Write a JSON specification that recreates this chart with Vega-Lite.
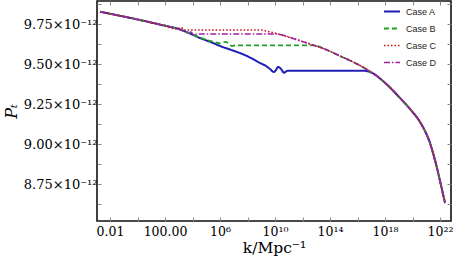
{
  "$schema": "https://vega.github.io/schema/vega-lite/v6.json",
  "width": 354,
  "height": 220,
  "autosize": "none",
  "padding": {"left": 97, "top": 1, "right": 2, "bottom": 44},
  "config": {
    "view": {"stroke": "#111", "strokeWidth": 1.6},
    "font": "DejaVu Serif",
    "legend": {
      "orient": "none", "legendX": 286, "legendY": 1.5, "symbolType": "stroke", "symbolSize": 256,
      "symbolStrokeWidth": 1.8, "labelFont": "Liberation Sans", "labelFontSize": 9, "labelColor": "#222",
      "labelOffset": 5, "rowPadding": 3, "padding": 0
    }
  },
  "data": {"values": [
    {"case": "Case A", "k": 1.875e-3, "P": 9.8269e-12},
    {"case": "Case A", "k": 0.0533, "P": 9.8013e-12},
    {"case": "Case A", "k": 1.52, "P": 9.775e-12},
    {"case": "Case A", "k": 43.3, "P": 9.7463e-12},
    {"case": "Case A", "k": 1233, "P": 9.7156e-12},
    {"case": "Case A", "k": 6577, "P": 9.6906e-12},
    {"case": "Case A", "k": 35080, "P": 9.6625e-12},
    {"case": "Case A", "k": 3.10e5, "P": 9.6313e-12},
    {"case": "Case A", "k": 1e6, "P": 9.6125e-12},
    {"case": "Case A", "k": 5.33e6, "P": 9.5906e-12},
    {"case": "Case A", "k": 9.2e7, "P": 9.55e-12},
    {"case": "Case A", "k": 8.11e8, "P": 9.5063e-12},
    {"case": "Case A", "k": 2.214e9, "P": 9.4875e-12},
    {"case": "Case A", "k": 4.33e9, "P": 9.4688e-12},
    {"case": "Case A", "k": 8.46e9, "P": 9.45e-12},
    {"case": "Case A", "k": 1.182e10, "P": 9.4625e-12},
    {"case": "Case A", "k": 1.652e10, "P": 9.4813e-12},
    {"case": "Case A", "k": 2.73e10, "P": 9.4688e-12},
    {"case": "Case A", "k": 4.52e10, "P": 9.4456e-12},
    {"case": "Case A", "k": 6.31e10, "P": 9.4531e-12},
    {"case": "Case A", "k": 8.82e10, "P": 9.4581e-12},
    {"case": "Case A", "k": 6.58e11, "P": 9.4581e-12},
    {"case": "Case A", "k": 5.34e14, "P": 9.4581e-12},
    {"case": "Case A", "k": 2.12e16, "P": 9.4581e-12},
    {"case": "Case A", "k": 4.15e16, "P": 9.4563e-12},
    {"case": "Case A", "k": 8.11e16, "P": 9.45e-12},
    {"case": "Case A", "k": 1.875e17, "P": 9.4344e-12},
    {"case": "Case A", "k": 4.33e17, "P": 9.4094e-12},
    {"case": "Case A", "k": 2.31e18, "P": 9.3531e-12},
    {"case": "Case A", "k": 1.233e19, "P": 9.2875e-12},
    {"case": "Case A", "k": 6.58e19, "P": 9.2188e-12},
    {"case": "Case A", "k": 3.51e20, "P": 9.1375e-12},
    {"case": "Case A", "k": 8.11e20, "P": 9.0813e-12},
    {"case": "Case A", "k": 1.875e21, "P": 9.0063e-12},
    {"case": "Case A", "k": 3.10e21, "P": 8.9438e-12},
    {"case": "Case A", "k": 6.05e21, "P": 8.85e-12},
    {"case": "Case A", "k": 1e22, "P": 8.7688e-12},
    {"case": "Case A", "k": 1.652e22, "P": 8.6875e-12},
    {"case": "Case A", "k": 2.31e22, "P": 8.6313e-12},

    {"case": "Case B", "k": 1.875e-3, "P": 9.8269e-12},
    {"case": "Case B", "k": 0.0533, "P": 9.8013e-12},
    {"case": "Case B", "k": 1.52, "P": 9.775e-12},
    {"case": "Case B", "k": 43.3, "P": 9.7463e-12},
    {"case": "Case B", "k": 1233, "P": 9.7156e-12},
    {"case": "Case B", "k": 6577, "P": 9.6906e-12},
    {"case": "Case B", "k": 35080, "P": 9.6656e-12},
    {"case": "Case B", "k": 3.10e5, "P": 9.6394e-12},
    {"case": "Case B", "k": 1e6, "P": 9.6294e-12},
    {"case": "Case B", "k": 1.652e6, "P": 9.6344e-12},
    {"case": "Case B", "k": 2.73e6, "P": 9.6388e-12},
    {"case": "Case B", "k": 4.52e6, "P": 9.625e-12},
    {"case": "Case B", "k": 7.47e6, "P": 9.6125e-12},
    {"case": "Case B", "k": 1.458e7, "P": 9.6169e-12},
    {"case": "Case B", "k": 1e9, "P": 9.6169e-12},
    {"case": "Case B", "k": 5.80e12, "P": 9.6169e-12},
    {"case": "Case B", "k": 6.05e13, "P": 9.5875e-12},
    {"case": "Case B", "k": 5.34e14, "P": 9.55e-12},
    {"case": "Case B", "k": 2.85e15, "P": 9.5219e-12},
    {"case": "Case B", "k": 1.52e16, "P": 9.4906e-12},
    {"case": "Case B", "k": 4.15e16, "P": 9.4688e-12},
    {"case": "Case B", "k": 8.11e16, "P": 9.4531e-12},
    {"case": "Case B", "k": 4.33e17, "P": 9.4094e-12},
    {"case": "Case B", "k": 2.31e18, "P": 9.3531e-12},
    {"case": "Case B", "k": 1.233e19, "P": 9.2875e-12},
    {"case": "Case B", "k": 6.58e19, "P": 9.2188e-12},
    {"case": "Case B", "k": 3.51e20, "P": 9.1375e-12},
    {"case": "Case B", "k": 8.11e20, "P": 9.0813e-12},
    {"case": "Case B", "k": 1.875e21, "P": 9.0063e-12},
    {"case": "Case B", "k": 3.10e21, "P": 8.9438e-12},
    {"case": "Case B", "k": 6.05e21, "P": 8.85e-12},
    {"case": "Case B", "k": 1e22, "P": 8.7688e-12},
    {"case": "Case B", "k": 1.652e22, "P": 8.6875e-12},
    {"case": "Case B", "k": 2.31e22, "P": 8.6313e-12},

    {"case": "Case C", "k": 1.875e-3, "P": 9.8269e-12},
    {"case": "Case C", "k": 0.0533, "P": 9.8013e-12},
    {"case": "Case C", "k": 1.52, "P": 9.775e-12},
    {"case": "Case C", "k": 43.3, "P": 9.7463e-12},
    {"case": "Case C", "k": 881, "P": 9.7188e-12},
    {"case": "Case C", "k": 1233, "P": 9.7281e-12},
    {"case": "Case C", "k": 1722, "P": 9.725e-12},
    {"case": "Case C", "k": 2408, "P": 9.7125e-12},
    {"case": "Case C", "k": 1e6, "P": 9.7125e-12},
    {"case": "Case C", "k": 1.134e9, "P": 9.7125e-12},
    {"case": "Case C", "k": 3.097e9, "P": 9.7031e-12},
    {"case": "Case C", "k": 2.31e10, "P": 9.6844e-12},
    {"case": "Case C", "k": 2.04e11, "P": 9.6594e-12},
    {"case": "Case C", "k": 3.51e12, "P": 9.625e-12},
    {"case": "Case C", "k": 6.05e13, "P": 9.5875e-12},
    {"case": "Case C", "k": 5.34e14, "P": 9.55e-12},
    {"case": "Case C", "k": 2.85e15, "P": 9.5219e-12},
    {"case": "Case C", "k": 1.52e16, "P": 9.4906e-12},
    {"case": "Case C", "k": 4.15e16, "P": 9.4688e-12},
    {"case": "Case C", "k": 8.11e16, "P": 9.4531e-12},
    {"case": "Case C", "k": 4.33e17, "P": 9.4094e-12},
    {"case": "Case C", "k": 2.31e18, "P": 9.3531e-12},
    {"case": "Case C", "k": 1.233e19, "P": 9.2875e-12},
    {"case": "Case C", "k": 6.58e19, "P": 9.2188e-12},
    {"case": "Case C", "k": 3.51e20, "P": 9.1375e-12},
    {"case": "Case C", "k": 8.11e20, "P": 9.0813e-12},
    {"case": "Case C", "k": 1.875e21, "P": 9.0063e-12},
    {"case": "Case C", "k": 3.10e21, "P": 8.9438e-12},
    {"case": "Case C", "k": 6.05e21, "P": 8.85e-12},
    {"case": "Case C", "k": 1e22, "P": 8.7688e-12},
    {"case": "Case C", "k": 1.652e22, "P": 8.6875e-12},
    {"case": "Case C", "k": 2.31e22, "P": 8.6313e-12},

    {"case": "Case D", "k": 1.875e-3, "P": 9.8269e-12},
    {"case": "Case D", "k": 0.0533, "P": 9.8013e-12},
    {"case": "Case D", "k": 1.52, "P": 9.775e-12},
    {"case": "Case D", "k": 43.3, "P": 9.7463e-12},
    {"case": "Case D", "k": 1233, "P": 9.7156e-12},
    {"case": "Case D", "k": 4710, "P": 9.6956e-12},
    {"case": "Case D", "k": 7780, "P": 9.70e-12},
    {"case": "Case D", "k": 12850, "P": 9.6781e-12},
    {"case": "Case D", "k": 21230, "P": 9.6875e-12},
    {"case": "Case D", "k": 1e8, "P": 9.6875e-12},
    {"case": "Case D", "k": 1.182e10, "P": 9.6875e-12},
    {"case": "Case D", "k": 2.31e10, "P": 9.6844e-12},
    {"case": "Case D", "k": 2.04e11, "P": 9.6594e-12},
    {"case": "Case D", "k": 3.51e12, "P": 9.625e-12},
    {"case": "Case D", "k": 6.05e13, "P": 9.5875e-12},
    {"case": "Case D", "k": 5.34e14, "P": 9.55e-12},
    {"case": "Case D", "k": 2.85e15, "P": 9.5219e-12},
    {"case": "Case D", "k": 1.52e16, "P": 9.4906e-12},
    {"case": "Case D", "k": 4.15e16, "P": 9.4688e-12},
    {"case": "Case D", "k": 8.11e16, "P": 9.4531e-12},
    {"case": "Case D", "k": 4.33e17, "P": 9.4094e-12},
    {"case": "Case D", "k": 2.31e18, "P": 9.3531e-12},
    {"case": "Case D", "k": 1.233e19, "P": 9.2875e-12},
    {"case": "Case D", "k": 6.58e19, "P": 9.2188e-12},
    {"case": "Case D", "k": 3.51e20, "P": 9.1375e-12},
    {"case": "Case D", "k": 8.11e20, "P": 9.0813e-12},
    {"case": "Case D", "k": 1.875e21, "P": 9.0063e-12},
    {"case": "Case D", "k": 3.10e21, "P": 8.9438e-12},
    {"case": "Case D", "k": 6.05e21, "P": 8.85e-12},
    {"case": "Case D", "k": 1e22, "P": 8.7688e-12},
    {"case": "Case D", "k": 1.652e22, "P": 8.6875e-12},
    {"case": "Case D", "k": 2.31e22, "P": 8.6313e-12}
  ]},
  "layer": [
    {
      "mark": {"type": "line", "clip": true, "interpolate": "monotone"},
      "encoding": {
        "x": {
          "field": "k", "type": "quantitative",
          "scale": {"type": "log", "domain": [1.134e-3, 6.3e22], "nice": false},
          "axis": {
            "orient": "bottom",
            "values": [1e-2, 1, 1e2, 1e4, 1e6, 1e8, 1e10, 1e12, 1e14, 1e16, 1e18, 1e20, 1e22],
            "labelExpr": "round(log(datum.value)/LN10) == -2 ? '0.01' : round(log(datum.value)/LN10) == 2 ? '100.00' : round(log(datum.value)/LN10) == 6 ? '10⁶' : round(log(datum.value)/LN10) == 10 ? '10¹⁰' : round(log(datum.value)/LN10) == 14 ? '10¹⁴' : round(log(datum.value)/LN10) == 18 ? '10¹⁸' : round(log(datum.value)/LN10) == 22 ? '10²²' : ''",
            "tickSize": -4, "tickColor": "#888", "domain": false, "grid": false,
            "labelFont": "DejaVu Serif", "labelFontSize": 12.5, "labelColor": "black", "labelPadding": 8,
            "labelFlush": false, "labelOverlap": false,
            "title": "k/Mpc⁻¹", "titleFont": "DejaVu Serif", "titleFontSize": 15.5, "titleFontWeight": "normal",
            "titleColor": "black", "titlePadding": 3
          }
        },
        "y": {
          "field": "P", "type": "quantitative",
          "scale": {"domain": [8.51875e-12, 9.89375e-12], "nice": false, "zero": false},
          "axis": {
            "orient": "left",
            "values": [8.625e-12, 8.75e-12, 8.875e-12, 9e-12, 9.125e-12, 9.25e-12, 9.375e-12, 9.5e-12, 9.625e-12, 9.75e-12, 9.875e-12],
            "labelExpr": "abs(datum.value*4e12 - round(datum.value*4e12)) < 0.01 ? format(datum.value*1e12, '.2f') + '×10⁻¹²' : ''",
            "tickSize": -4, "tickColor": "#888", "domain": false, "grid": false,
            "labelFont": "DejaVu Serif", "labelFontSize": 13, "labelColor": "black", "labelPadding": 4,
            "labelOverlap": false, "labelFlush": false,
            "title": "Pₜ", "titleFont": "DejaVu Serif", "titleFontSize": 16, "titleFontStyle": "italic", "titleFontWeight": "normal",
            "titleColor": "black", "titlePadding": 4
          }
        },
        "color": {
          "field": "case", "type": "nominal",
          "scale": {"domain": ["Case A", "Case B", "Case C", "Case D"], "range": ["#1f1fb4", "#22a022", "#cc1111", "#a020a0"]},
          "legend": {"title": null}
        },
        "strokeDash": {
          "field": "case", "type": "nominal",
          "scale": {"domain": ["Case A", "Case B", "Case C", "Case D"], "range": [[1, 0], [5, 3], [1.5, 2], [6, 2, 1.5, 2]]},
          "legend": {"title": null}
        },
        "strokeWidth": {
          "field": "case", "type": "nominal",
          "scale": {"domain": ["Case A", "Case B", "Case C", "Case D"], "range": [2, 1.5, 1.5, 1.5]},
          "legend": null
        }
      }
    },
    {
      "mark": {"type": "point", "opacity": 0},
      "encoding": {
        "x": {
          "field": "k", "type": "quantitative",
          "scale": {"type": "log", "domain": [1.134e-3, 6.3e22], "nice": false},
          "axis": {
            "orient": "top", "values": [1e-2, 1, 1e2, 1e4, 1e6, 1e8, 1e10, 1e12, 1e14, 1e16, 1e18, 1e20, 1e22],
            "labels": false, "domain": false, "grid": false, "tickSize": -4, "tickColor": "#888", "title": null
          }
        },
        "y": {
          "field": "P", "type": "quantitative",
          "scale": {"domain": [8.51875e-12, 9.89375e-12], "nice": false, "zero": false},
          "axis": {
            "orient": "right", "values": [8.625e-12, 8.75e-12, 8.875e-12, 9e-12, 9.125e-12, 9.25e-12, 9.375e-12, 9.5e-12, 9.625e-12, 9.75e-12, 9.875e-12],
            "labels": false, "domain": false, "grid": false, "tickSize": -4, "tickColor": "#888", "title": null
          }
        }
      }
    }
  ],
  "resolve": {"axis": {"x": "independent", "y": "independent"}}
}
